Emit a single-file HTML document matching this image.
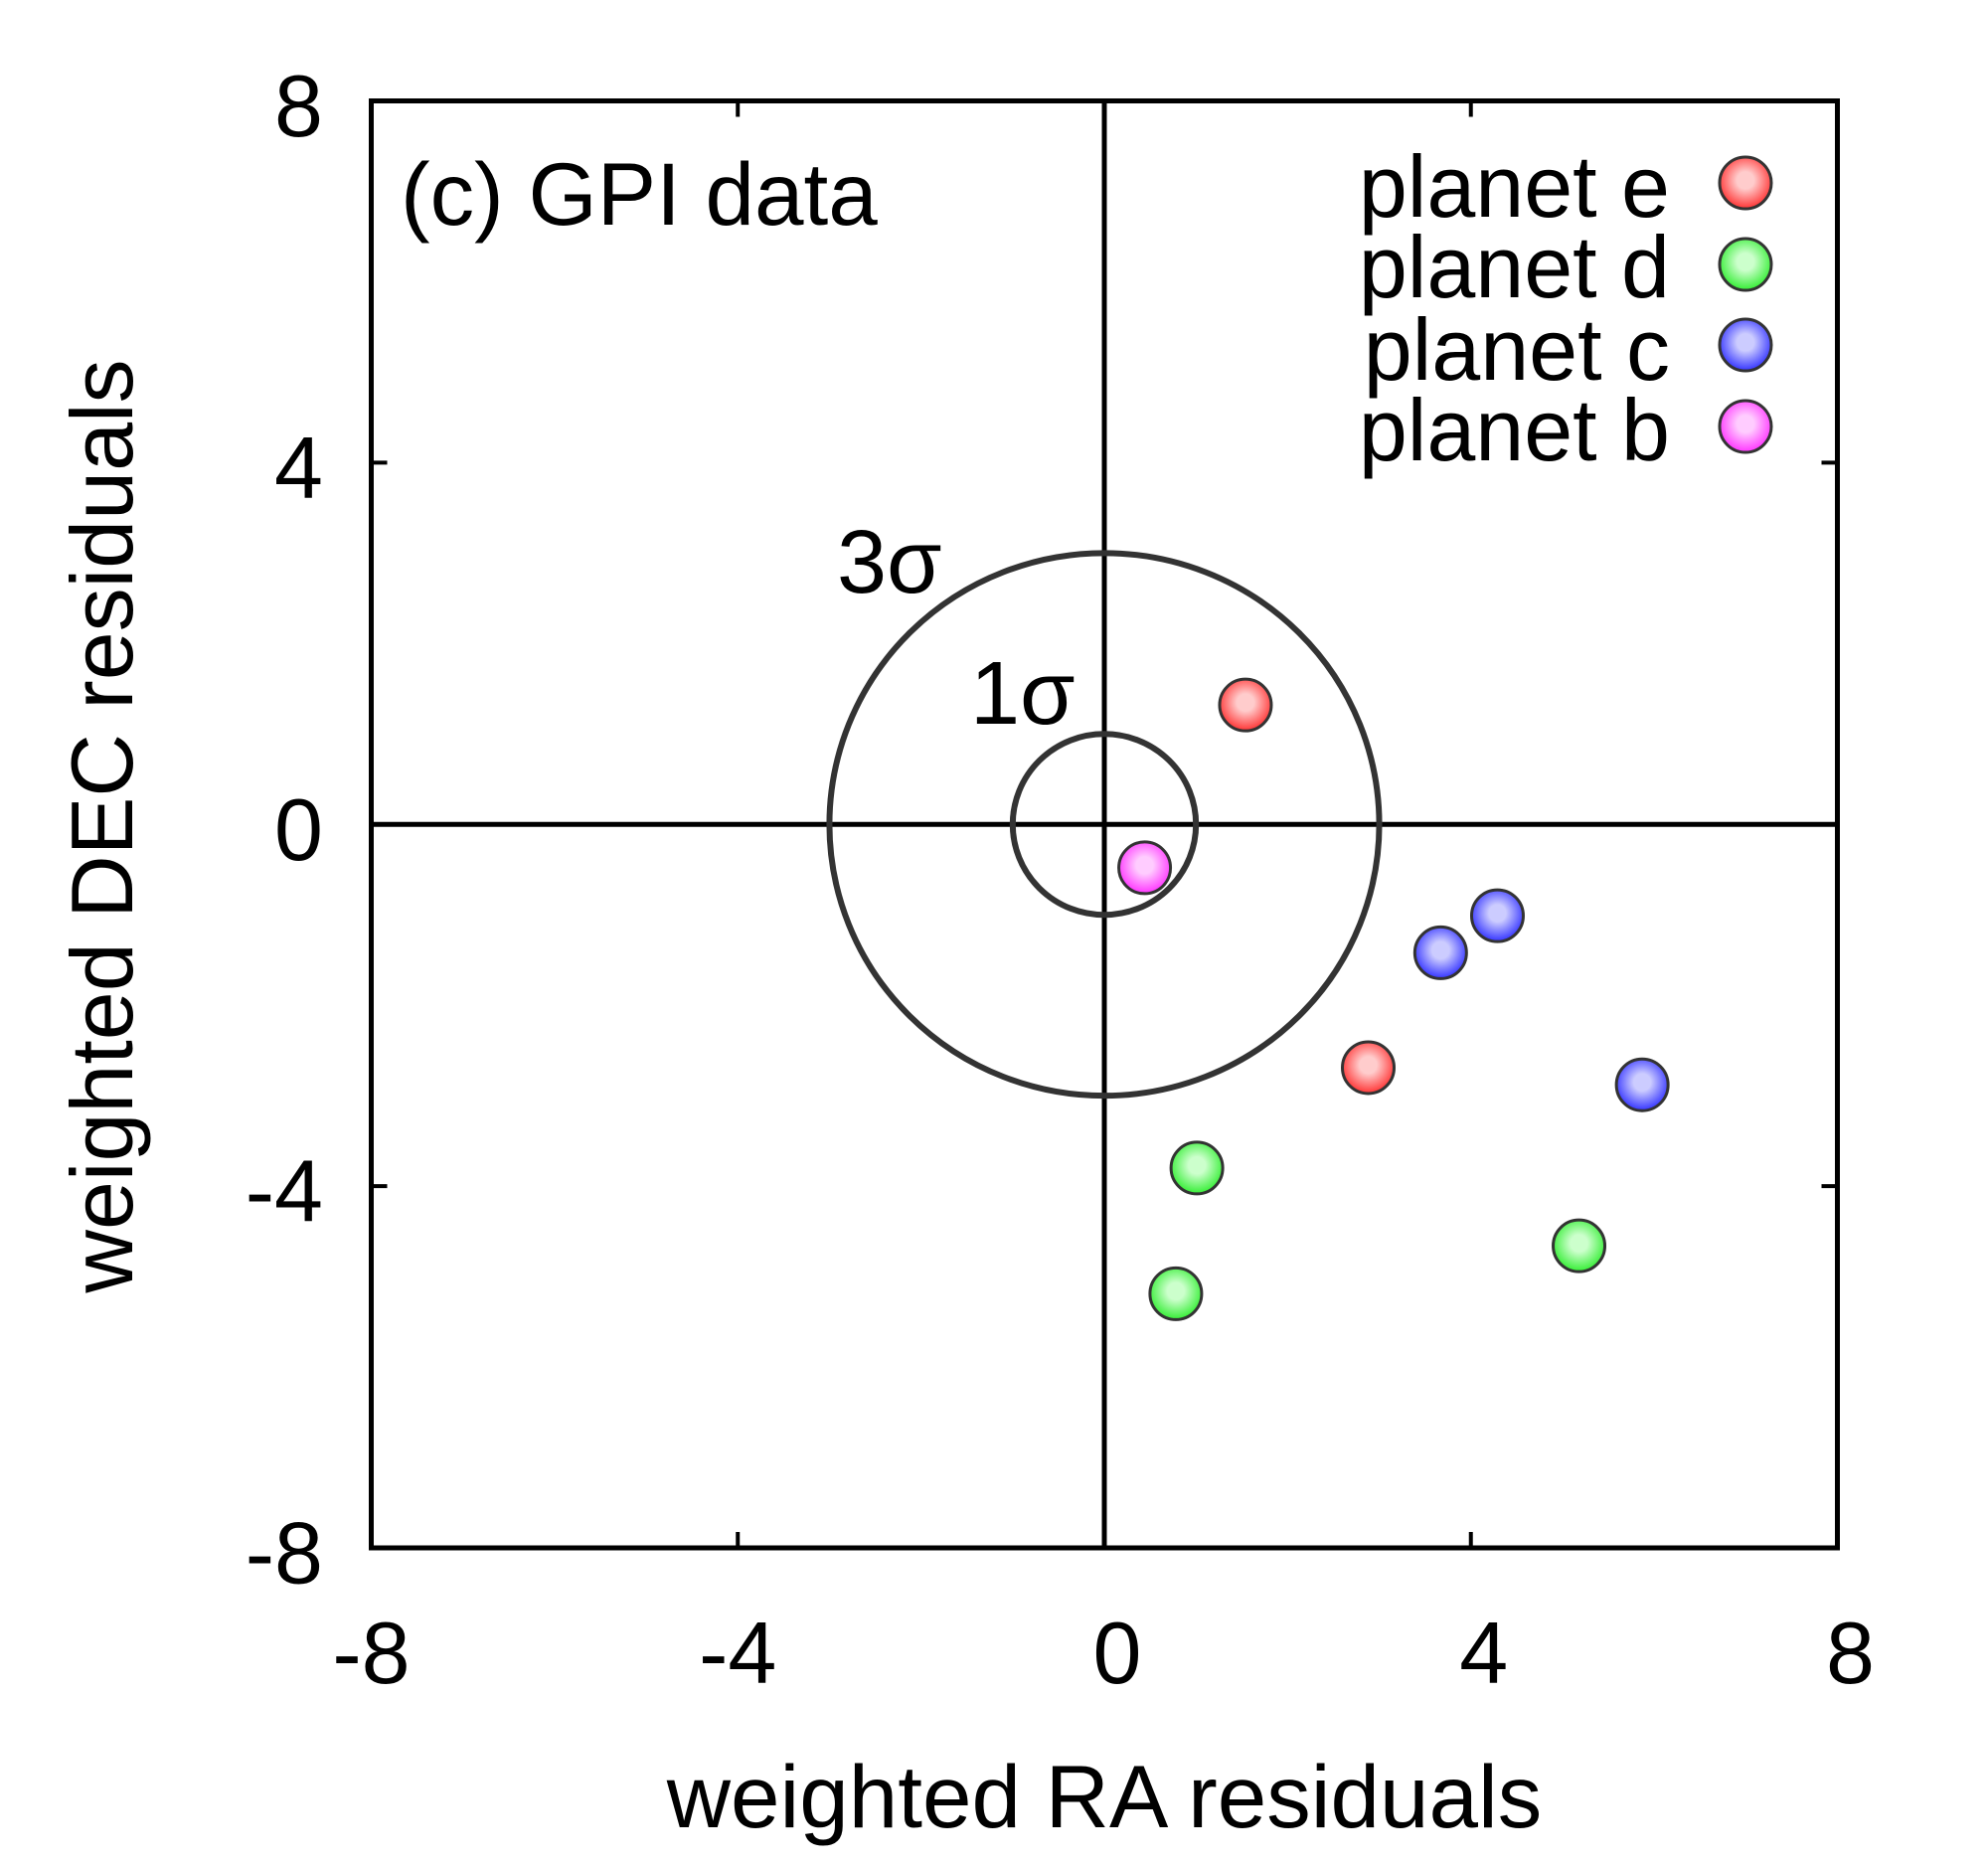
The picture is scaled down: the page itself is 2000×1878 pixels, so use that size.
<!DOCTYPE html>
<html><head><meta charset="utf-8"><style>
html,body{margin:0;padding:0;background:#fff;}
svg{display:block;font-family:"Liberation Sans",sans-serif;}
</style></head><body>
<svg id="chart" width="2000" height="1878" viewBox="0 0 2000 1878">
<defs>
<radialGradient id="gr" cx="0.5" cy="0.45" r="0.55"><stop offset="0.3" stop-color="#ffcccc"/><stop offset="1" stop-color="#ff3333"/></radialGradient>
<radialGradient id="gg" cx="0.5" cy="0.45" r="0.55"><stop offset="0.3" stop-color="#ccffcc"/><stop offset="1" stop-color="#33ee33"/></radialGradient>
<radialGradient id="gb" cx="0.5" cy="0.45" r="0.55"><stop offset="0.3" stop-color="#ccccff"/><stop offset="1" stop-color="#3333ff"/></radialGradient>
<radialGradient id="gm" cx="0.5" cy="0.45" r="0.55"><stop offset="0.3" stop-color="#ffccff"/><stop offset="1" stop-color="#ff33ff"/></radialGradient>
</defs>
<g id="layer"></g>
</svg>
<script>
const xTicks=[-8,-4,0,4,8];
const yTicks=[-8,-4,0,4,8];
const seriesNames=["planet e","planet d","planet c","planet b"];
const eX=[1.54,2.88];
const eY=[1.32,-2.69];
const dX=[1.01,0.78,5.18];
const dY=[-3.80,-5.19,-4.66];
const cX=[4.29,3.67,5.87];
const cY=[-1.01,-1.42,-2.88];
const bX=[0.44];
const bY=[-0.48];
const sigmaRadii=[1,3];

const L=373.5,R=1848.5,T=101.5,B=1557;
const sx=v=>L+(v+8)/16*(R-L);
const sy=v=>T+(8-v)/16*(B-T);
const NS="http://www.w3.org/2000/svg";
const g=document.getElementById('layer');
function mk(tag,at,txt){const e=document.createElementNS(NS,tag);for(const k in at)e.setAttribute(k,at[k]);if(txt!==undefined)e.textContent=txt;g.appendChild(e);return e;}

let e=mk('line',{x1:sx(0),x2:sx(0),y1:T,y2:B,stroke:'#000','stroke-width':5});


e=mk('line',{x1:L,x2:R,y1:sy(0),y2:sy(0),stroke:'#000','stroke-width':5});



sigmaRadii.forEach(r=>{
 const c=mk('ellipse',{cx:sx(0),cy:sy(0),rx:sx(r)-sx(0),ry:sy(0)-sy(r),fill:'none',stroke:'#333','stroke-width':6});
 
 
});

xTicks.forEach(v=>{
 if(v>-8&&v<8){
  let t=mk('line',{x1:sx(v),x2:sx(v),y1:B,y2:B-16,stroke:'#000','stroke-width':4});
  
  
  t=mk('line',{x1:sx(v),x2:sx(v),y1:T,y2:T+16,stroke:'#000','stroke-width':4});
  
  
 }
 const off=v<0?0:13;
 const lb=mk('text',{x:sx(v)+off,y:1693,'font-size':88,'text-anchor':'middle'},String(v));
 
 
});
yTicks.forEach(v=>{
 if(v>-8&&v<8){
  let t=mk('line',{x1:L,x2:L+16,y1:sy(v),y2:sy(v),stroke:'#000','stroke-width':4});
  
  
  t=mk('line',{x1:R,x2:R-16,y1:sy(v),y2:sy(v),stroke:'#000','stroke-width':4});
  
  
 }
 const lb=mk('text',{x:325,y:sy(v)+35.5,'font-size':88,'text-anchor':'end'},String(v));
 
 
});

e=mk('rect',{x:L,y:T,width:R-L,height:B-T,fill:'none',stroke:'#000','stroke-width':5});



e=mk('text',{x:842,y:596,'font-size':90},'3σ');


e=mk('text',{x:976,y:728,'font-size':90},'1σ');



e=mk('text',{x:403,y:226,'font-size':89},'(c) GPI data');



const sets=[[eX,eY,'url(#gr)'],[dX,dY,'url(#gg)'],[cX,cY,'url(#gb)'],[bX,bY,'url(#gm)']];
sets.forEach((s,i)=>{
 s[0].forEach((xv,j)=>{
  const p=mk('circle',{cx:sx(xv),cy:sy(s[1][j]),r:26,fill:s[2],stroke:'#333','stroke-width':3});
  
  
 });
});

const lbY=[218,299,382,463];
const lmY=[184,266,347,429];
seriesNames.forEach((n,i)=>{
 const t=mk('text',{x:1680,y:lbY[i],'font-size':88,'text-anchor':'end'},n);
 
 
 const c=mk('circle',{cx:1756,cy:lmY[i],r:26,fill:sets[i][2],stroke:'#333','stroke-width':3});
 
 
});

e=mk('text',{x:1111,y:1838,'font-size':89,'text-anchor':'middle'},'weighted RA residuals');


e=mk('text',{x:0,y:0,'font-size':88,'text-anchor':'middle',transform:'translate(133,831) rotate(-90)'},'weighted DEC residuals');


</script>
</body></html>
